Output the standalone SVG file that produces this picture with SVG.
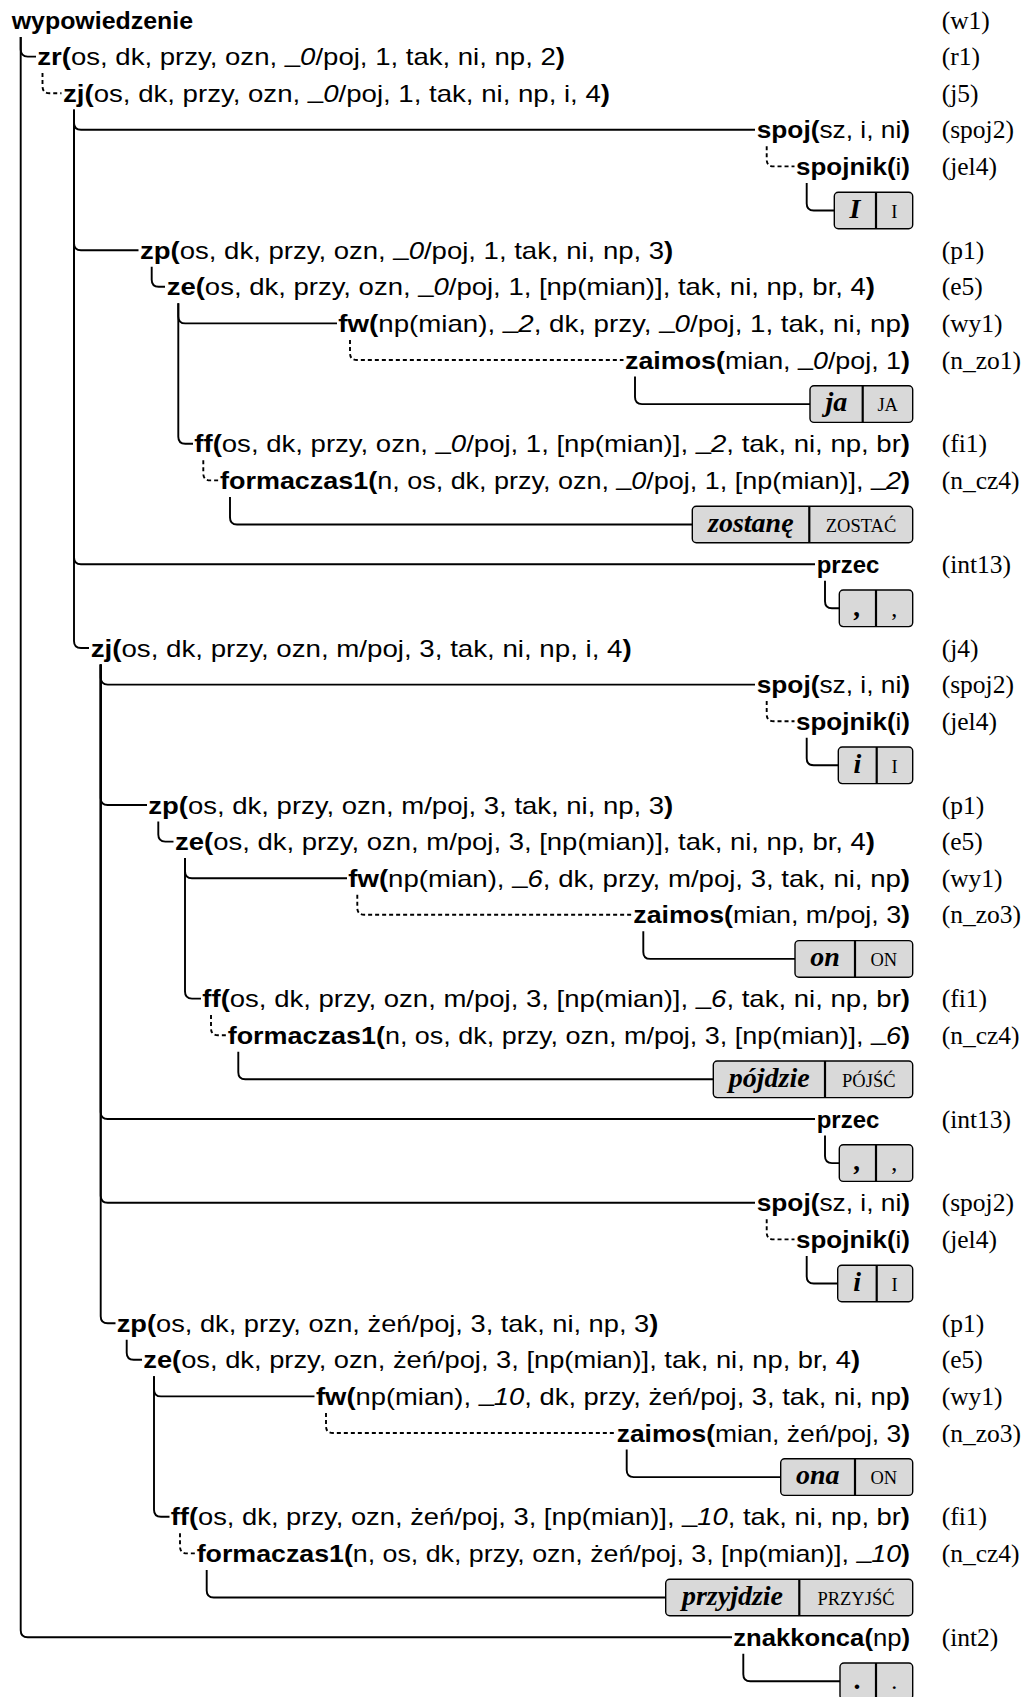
<svg xmlns="http://www.w3.org/2000/svg" width="1030" height="1697" viewBox="0 0 1030 1697">
<style>
  .t { font-family: "Liberation Sans", Arial, sans-serif; font-size: 24px; fill: #000; }
  .b { font-weight: bold; }
  .i { font-style: italic; }
  .lab { font-family: "Liberation Serif", "Times New Roman", serif; font-size: 25.5px; fill: #000; }
  .w { font-family: "Liberation Serif", "Times New Roman", serif; font-weight: bold; font-style: italic; font-size: 28px; text-anchor: middle; }
  .lm { font-family: "Liberation Serif", "Times New Roman", serif; font-size: 18.5px; text-anchor: middle; }
  .box { fill: #d9d9d9; stroke: #000; stroke-width: 1.4; }
  .sep { stroke: #000; stroke-width: 2.2; }
  .e { fill: none; stroke: #000; stroke-width: 1.9; }
  .d { stroke-dasharray: 4 3; }
</style>
<rect width="1030" height="1697" fill="#fff"/>

<!-- tree edges -->
<g id="connectors">
  <path class="e" d="M20.7 37 V49.6 Q20.7 56.6 27.7 56.6 H36"/>
  <path class="e" d="M20.7 37 V1630.2 Q20.7 1637.2 27.7 1637.2 H732"/>
  <path class="e d" d="M42.5 73 V86.2 Q42.5 93.2 49.5 93.2 H61.5"/>
  <path class="e" d="M74 109.7 V122.8 Q74 129.8 81 129.8 H755"/>
  <path class="e" d="M74 109.7 V243.2 Q74 250.2 81 250.2 H138.5"/>
  <path class="e" d="M74 109.7 V557.2 Q74 564.2 81 564.2 H815"/>
  <path class="e" d="M74 109.7 V641 Q74 648 81 648 H89"/>
  <path class="e d" d="M766.7 146.3 V159.4 Q766.7 166.4 773.7 166.4 H794.5"/>
  <path class="e" d="M806.7 182.9 V203.5 Q806.7 210.5 813.7 210.5 H834.3"/>
  <path class="e" d="M151.7 266.7 V279.8 Q151.7 286.8 158.7 286.8 H165"/>
  <path class="e" d="M178.3 303.3 V316.4 Q178.3 323.4 185.3 323.4 H337"/>
  <path class="e" d="M178.3 303.3 V436.8 Q178.3 443.8 185.3 443.8 H193"/>
  <path class="e d" d="M350 339.9 V353 Q350 360 357 360 H623.5"/>
  <path class="e" d="M635 376.5 V397.1 Q635 404.1 642 404.1 H810"/>
  <path class="e d" d="M203.3 460.3 V473.4 Q203.3 480.4 210.3 480.4 H218.5"/>
  <path class="e" d="M230 496.9 V517.5 Q230 524.5 237 524.5 H692.3"/>
  <path class="e" d="M825 580.7 V601.3 Q825 608.3 832 608.3 H839.3"/>
  <path class="e" d="M100.7 664.5 V677.6 Q100.7 684.6 107.7 684.6 H755"/>
  <path class="e" d="M100.7 664.5 V798 Q100.7 805 107.7 805 H147"/>
  <path class="e" d="M100.7 664.5 V1112 Q100.7 1119 107.7 1119 H815"/>
  <path class="e" d="M100.7 664.5 V1195.8 Q100.7 1202.8 107.7 1202.8 H755"/>
  <path class="e" d="M100.7 664.5 V1316.2 Q100.7 1323.2 107.7 1323.2 H115.5"/>
  <path class="e d" d="M766.7 701.1 V714.2 Q766.7 721.2 773.7 721.2 H794.5"/>
  <path class="e" d="M806.7 737.7 V758.3 Q806.7 765.3 813.7 765.3 H838.3"/>
  <path class="e" d="M158.3 821.5 V834.6 Q158.3 841.6 165.3 841.6 H173.5"/>
  <path class="e" d="M185 858.1 V871.2 Q185 878.2 192 878.2 H347"/>
  <path class="e" d="M185 858.1 V991.6 Q185 998.6 192 998.6 H201"/>
  <path class="e d" d="M357.3 894.7 V907.8 Q357.3 914.8 364.3 914.8 H632"/>
  <path class="e" d="M643.3 931.3 V951.9 Q643.3 958.9 650.3 958.9 H795"/>
  <path class="e d" d="M211 1015.1 V1028.2 Q211 1035.2 218 1035.2 H226"/>
  <path class="e" d="M238.3 1051.7 V1072.3 Q238.3 1079.3 245.3 1079.3 H713.3"/>
  <path class="e" d="M825 1135.5 V1156.1 Q825 1163.1 832 1163.1 H839.3"/>
  <path class="e d" d="M766.7 1219.3 V1232.4 Q766.7 1239.4 773.7 1239.4 H794.5"/>
  <path class="e" d="M806.7 1255.9 V1276.5 Q806.7 1283.5 813.7 1283.5 H837.7"/>
  <path class="e" d="M126.7 1339.7 V1352.8 Q126.7 1359.8 133.7 1359.8 H142"/>
  <path class="e" d="M154 1376.3 V1389.4 Q154 1396.4 161 1396.4 H314.5"/>
  <path class="e" d="M154 1376.3 V1509.8 Q154 1516.8 161 1516.8 H169.5"/>
  <path class="e d" d="M326 1412.9 V1426 Q326 1433 333 1433 H615"/>
  <path class="e" d="M626.7 1449.5 V1470.1 Q626.7 1477.1 633.7 1477.1 H780.7"/>
  <path class="e d" d="M180 1533.3 V1546.4 Q180 1553.4 187 1553.4 H195"/>
  <path class="e" d="M206.7 1569.9 V1590.5 Q206.7 1597.5 213.7 1597.5 H665.7"/>
  <path class="e" d="M743.3 1653.7 V1674.3 Q743.3 1681.3 750.3 1681.3 H840"/>
</g>

<!-- nodes -->
<g id="n-wypowiedzenie">
  <text class="t b" x="11.7" y="28.5" textLength="181.3" lengthAdjust="spacingAndGlyphs">wypowiedzenie</text>
  <text class="lab" x="941.7" y="28.5">(w1)</text>
</g>
<g id="n-zr">
  <text class="t" x="37.3" y="65.1" textLength="527.7" lengthAdjust="spacingAndGlyphs"><tspan class="b">zr(</tspan>os, dk, przy, ozn, <tspan dy="-3.5">_</tspan><tspan dy="3.5" class="i">0</tspan>/poj, 1, tak, ni, np, 2<tspan class="b">)</tspan></text>
  <text class="lab" x="941.7" y="65.1">(r1)</text>
</g>
<g id="n-zj5">
  <text class="t" x="63" y="101.7" textLength="547" lengthAdjust="spacingAndGlyphs"><tspan class="b">zj(</tspan>os, dk, przy, ozn, <tspan dy="-3.5">_</tspan><tspan dy="3.5" class="i">0</tspan>/poj, 1, tak, ni, np, i, 4<tspan class="b">)</tspan></text>
  <text class="lab" x="941.7" y="101.7">(j5)</text>
</g>
<g id="n-spoj1">
  <text class="t" x="756.7" y="138.3" textLength="153.3" lengthAdjust="spacingAndGlyphs"><tspan class="b">spoj(</tspan>sz, i, ni<tspan class="b">)</tspan></text>
  <text class="lab" x="941.7" y="138.3">(spoj2)</text>
</g>
<g id="n-spojnik1">
  <text class="t" x="796" y="174.9" textLength="114" lengthAdjust="spacingAndGlyphs"><tspan class="b">spojnik(</tspan>i<tspan class="b">)</tspan></text>
  <text class="lab" x="941.7" y="174.9">(jel4)</text>
</g>
<g id="tok-I">
  <rect class="box" x="834.3" y="192.2" width="78.4" height="36.6" rx="4"/>
  <line class="sep" x1="876" y1="192.2" x2="876" y2="228.8"/>
  <text class="w" x="855" y="217.7">I</text>
  <text class="lm" x="894.3" y="217.7">I</text>
</g>
<g id="n-zp1">
  <text class="t" x="140" y="258.7" textLength="533.3" lengthAdjust="spacingAndGlyphs"><tspan class="b">zp(</tspan>os, dk, przy, ozn, <tspan dy="-3.5">_</tspan><tspan dy="3.5" class="i">0</tspan>/poj, 1, tak, ni, np, 3<tspan class="b">)</tspan></text>
  <text class="lab" x="941.7" y="258.7">(p1)</text>
</g>
<g id="n-ze1">
  <text class="t" x="166.7" y="295.3" textLength="708.3" lengthAdjust="spacingAndGlyphs"><tspan class="b">ze(</tspan>os, dk, przy, ozn, <tspan dy="-3.5">_</tspan><tspan dy="3.5" class="i">0</tspan>/poj, 1, [np(mian)], tak, ni, np, br, 4<tspan class="b">)</tspan></text>
  <text class="lab" x="941.7" y="295.3">(e5)</text>
</g>
<g id="n-fw1">
  <text class="t" x="338.3" y="331.9" textLength="571.7" lengthAdjust="spacingAndGlyphs"><tspan class="b">fw(</tspan>np(mian), <tspan dy="-3.5">_</tspan><tspan dy="3.5" class="i">2</tspan>, dk, przy, <tspan dy="-3.5">_</tspan><tspan dy="3.5" class="i">0</tspan>/poj, 1, tak, ni, np<tspan class="b">)</tspan></text>
  <text class="lab" x="941.7" y="331.9">(wy1)</text>
</g>
<g id="n-zaimos1">
  <text class="t" x="625" y="368.5" textLength="285" lengthAdjust="spacingAndGlyphs"><tspan class="b">zaimos(</tspan>mian, <tspan dy="-3.5">_</tspan><tspan dy="3.5" class="i">0</tspan>/poj, 1<tspan class="b">)</tspan></text>
  <text class="lab" x="941.7" y="368.5">(n_zo1)</text>
</g>
<g id="tok-ja">
  <rect class="box" x="810" y="385.8" width="102.7" height="36.6" rx="4"/>
  <line class="sep" x1="862.7" y1="385.8" x2="862.7" y2="422.4"/>
  <text class="w" x="836.3" y="411.3">ja</text>
  <text class="lm" x="887.7" y="411.3">JA</text>
</g>
<g id="n-ff1">
  <text class="t" x="194.3" y="452.3" textLength="715.7" lengthAdjust="spacingAndGlyphs"><tspan class="b">ff(</tspan>os, dk, przy, ozn, <tspan dy="-3.5">_</tspan><tspan dy="3.5" class="i">0</tspan>/poj, 1, [np(mian)], <tspan dy="-3.5">_</tspan><tspan dy="3.5" class="i">2</tspan>, tak, ni, np, br<tspan class="b">)</tspan></text>
  <text class="lab" x="941.7" y="452.3">(fi1)</text>
</g>
<g id="n-formaczas1-1">
  <text class="t" x="220" y="488.9" textLength="690" lengthAdjust="spacingAndGlyphs"><tspan class="b">formaczas1(</tspan>n, os, dk, przy, ozn, <tspan dy="-3.5">_</tspan><tspan dy="3.5" class="i">0</tspan>/poj, 1, [np(mian)], <tspan dy="-3.5">_</tspan><tspan dy="3.5" class="i">2</tspan><tspan class="b">)</tspan></text>
  <text class="lab" x="941.7" y="488.9">(n_cz4)</text>
</g>
<g id="tok-zostane">
  <rect class="box" x="692.3" y="506.2" width="220.4" height="36.6" rx="4"/>
  <line class="sep" x1="809.3" y1="506.2" x2="809.3" y2="542.8"/>
  <text class="w" x="750.8" y="531.7">zostanę</text>
  <text class="lm" x="861" y="531.7">ZOSTAĆ</text>
</g>
<g id="n-przec1">
  <text class="t b" x="816.7" y="572.7" textLength="62.6" lengthAdjust="spacingAndGlyphs">przec</text>
  <text class="lab" x="941.7" y="572.7">(int13)</text>
</g>
<g id="tok-comma1">
  <rect class="box" x="839.3" y="590" width="73.4" height="36.6" rx="4"/>
  <line class="sep" x1="876" y1="590" x2="876" y2="626.6"/>
  <text class="w" x="857.7" y="615.5">,</text>
  <text class="lm" x="894.3" y="615.5" style="font-size:24px">,</text>
</g>
<g id="n-zj4">
  <text class="t" x="90.7" y="656.5" textLength="541" lengthAdjust="spacingAndGlyphs"><tspan class="b">zj(</tspan>os, dk, przy, ozn, m/poj, 3, tak, ni, np, i, 4<tspan class="b">)</tspan></text>
  <text class="lab" x="941.7" y="656.5">(j4)</text>
</g>
<g id="n-spoj2">
  <text class="t" x="756.7" y="693.1" textLength="153.3" lengthAdjust="spacingAndGlyphs"><tspan class="b">spoj(</tspan>sz, i, ni<tspan class="b">)</tspan></text>
  <text class="lab" x="941.7" y="693.1">(spoj2)</text>
</g>
<g id="n-spojnik2">
  <text class="t" x="796" y="729.7" textLength="114" lengthAdjust="spacingAndGlyphs"><tspan class="b">spojnik(</tspan>i<tspan class="b">)</tspan></text>
  <text class="lab" x="941.7" y="729.7">(jel4)</text>
</g>
<g id="tok-i1">
  <rect class="box" x="838.3" y="747" width="74.4" height="36.6" rx="4"/>
  <line class="sep" x1="876.7" y1="747" x2="876.7" y2="783.6"/>
  <text class="w" x="857.5" y="772.5">i</text>
  <text class="lm" x="894.7" y="772.5">I</text>
</g>
<g id="n-zp2">
  <text class="t" x="148.3" y="813.5" textLength="525" lengthAdjust="spacingAndGlyphs"><tspan class="b">zp(</tspan>os, dk, przy, ozn, m/poj, 3, tak, ni, np, 3<tspan class="b">)</tspan></text>
  <text class="lab" x="941.7" y="813.5">(p1)</text>
</g>
<g id="n-ze2">
  <text class="t" x="175" y="850.1" textLength="700" lengthAdjust="spacingAndGlyphs"><tspan class="b">ze(</tspan>os, dk, przy, ozn, m/poj, 3, [np(mian)], tak, ni, np, br, 4<tspan class="b">)</tspan></text>
  <text class="lab" x="941.7" y="850.1">(e5)</text>
</g>
<g id="n-fw2">
  <text class="t" x="348.3" y="886.7" textLength="561.7" lengthAdjust="spacingAndGlyphs"><tspan class="b">fw(</tspan>np(mian), <tspan dy="-3.5">_</tspan><tspan dy="3.5" class="i">6</tspan>, dk, przy, m/poj, 3, tak, ni, np<tspan class="b">)</tspan></text>
  <text class="lab" x="941.7" y="886.7">(wy1)</text>
</g>
<g id="n-zaimos2">
  <text class="t" x="633.3" y="923.3" textLength="276.7" lengthAdjust="spacingAndGlyphs"><tspan class="b">zaimos(</tspan>mian, m/poj, 3<tspan class="b">)</tspan></text>
  <text class="lab" x="941.7" y="923.3">(n_zo3)</text>
</g>
<g id="tok-on">
  <rect class="box" x="795" y="940.6" width="117.7" height="36.6" rx="4"/>
  <line class="sep" x1="855" y1="940.6" x2="855" y2="977.2"/>
  <text class="w" x="825" y="966.1">on</text>
  <text class="lm" x="883.8" y="966.1">ON</text>
</g>
<g id="n-ff2">
  <text class="t" x="202.3" y="1007.1" textLength="707.7" lengthAdjust="spacingAndGlyphs"><tspan class="b">ff(</tspan>os, dk, przy, ozn, m/poj, 3, [np(mian)], <tspan dy="-3.5">_</tspan><tspan dy="3.5" class="i">6</tspan>, tak, ni, np, br<tspan class="b">)</tspan></text>
  <text class="lab" x="941.7" y="1007.1">(fi1)</text>
</g>
<g id="n-formaczas1-2">
  <text class="t" x="227.7" y="1043.7" textLength="682.3" lengthAdjust="spacingAndGlyphs"><tspan class="b">formaczas1(</tspan>n, os, dk, przy, ozn, m/poj, 3, [np(mian)], <tspan dy="-3.5">_</tspan><tspan dy="3.5" class="i">6</tspan><tspan class="b">)</tspan></text>
  <text class="lab" x="941.7" y="1043.7">(n_cz4)</text>
</g>
<g id="tok-pojdzie">
  <rect class="box" x="713.3" y="1061" width="199.4" height="36.6" rx="4"/>
  <line class="sep" x1="825" y1="1061" x2="825" y2="1097.6"/>
  <text class="w" x="769.2" y="1086.5">pójdzie</text>
  <text class="lm" x="868.8" y="1086.5">PÓJŚĆ</text>
</g>
<g id="n-przec2">
  <text class="t b" x="816.7" y="1127.5" textLength="62.6" lengthAdjust="spacingAndGlyphs">przec</text>
  <text class="lab" x="941.7" y="1127.5">(int13)</text>
</g>
<g id="tok-comma2">
  <rect class="box" x="839.3" y="1144.8" width="73.4" height="36.6" rx="4"/>
  <line class="sep" x1="876" y1="1144.8" x2="876" y2="1181.4"/>
  <text class="w" x="857.7" y="1170.3">,</text>
  <text class="lm" x="894.3" y="1170.3" style="font-size:24px">,</text>
</g>
<g id="n-spoj3">
  <text class="t" x="756.7" y="1211.3" textLength="153.3" lengthAdjust="spacingAndGlyphs"><tspan class="b">spoj(</tspan>sz, i, ni<tspan class="b">)</tspan></text>
  <text class="lab" x="941.7" y="1211.3">(spoj2)</text>
</g>
<g id="n-spojnik3">
  <text class="t" x="796" y="1247.9" textLength="114" lengthAdjust="spacingAndGlyphs"><tspan class="b">spojnik(</tspan>i<tspan class="b">)</tspan></text>
  <text class="lab" x="941.7" y="1247.9">(jel4)</text>
</g>
<g id="tok-i2">
  <rect class="box" x="837.7" y="1265.2" width="75" height="36.6" rx="4"/>
  <line class="sep" x1="876.7" y1="1265.2" x2="876.7" y2="1301.8"/>
  <text class="w" x="857.2" y="1290.7">i</text>
  <text class="lm" x="894.7" y="1290.7">I</text>
</g>
<g id="n-zp3">
  <text class="t" x="116.7" y="1331.7" textLength="541.6" lengthAdjust="spacingAndGlyphs"><tspan class="b">zp(</tspan>os, dk, przy, ozn, żeń/poj, 3, tak, ni, np, 3<tspan class="b">)</tspan></text>
  <text class="lab" x="941.7" y="1331.7">(p1)</text>
</g>
<g id="n-ze3">
  <text class="t" x="143.3" y="1368.3" textLength="716.7" lengthAdjust="spacingAndGlyphs"><tspan class="b">ze(</tspan>os, dk, przy, ozn, żeń/poj, 3, [np(mian)], tak, ni, np, br, 4<tspan class="b">)</tspan></text>
  <text class="lab" x="941.7" y="1368.3">(e5)</text>
</g>
<g id="n-fw3">
  <text class="t" x="316" y="1404.9" textLength="594" lengthAdjust="spacingAndGlyphs"><tspan class="b">fw(</tspan>np(mian), <tspan dy="-3.5">_</tspan><tspan dy="3.5" class="i">10</tspan>, dk, przy, żeń/poj, 3, tak, ni, np<tspan class="b">)</tspan></text>
  <text class="lab" x="941.7" y="1404.9">(wy1)</text>
</g>
<g id="n-zaimos3">
  <text class="t" x="616.7" y="1441.5" textLength="293.3" lengthAdjust="spacingAndGlyphs"><tspan class="b">zaimos(</tspan>mian, żeń/poj, 3<tspan class="b">)</tspan></text>
  <text class="lab" x="941.7" y="1441.5">(n_zo3)</text>
</g>
<g id="tok-ona">
  <rect class="box" x="780.7" y="1458.8" width="132" height="36.6" rx="4"/>
  <line class="sep" x1="855" y1="1458.8" x2="855" y2="1495.4"/>
  <text class="w" x="817.8" y="1484.3">ona</text>
  <text class="lm" x="883.8" y="1484.3">ON</text>
</g>
<g id="n-ff3">
  <text class="t" x="170.7" y="1525.3" textLength="739.3" lengthAdjust="spacingAndGlyphs"><tspan class="b">ff(</tspan>os, dk, przy, ozn, żeń/poj, 3, [np(mian)], <tspan dy="-3.5">_</tspan><tspan dy="3.5" class="i">10</tspan>, tak, ni, np, br<tspan class="b">)</tspan></text>
  <text class="lab" x="941.7" y="1525.3">(fi1)</text>
</g>
<g id="n-formaczas1-3">
  <text class="t" x="196.7" y="1561.9" textLength="713.3" lengthAdjust="spacingAndGlyphs"><tspan class="b">formaczas1(</tspan>n, os, dk, przy, ozn, żeń/poj, 3, [np(mian)], <tspan dy="-3.5">_</tspan><tspan dy="3.5" class="i">10</tspan><tspan class="b">)</tspan></text>
  <text class="lab" x="941.7" y="1561.9">(n_cz4)</text>
</g>
<g id="tok-przyjdzie">
  <rect class="box" x="665.7" y="1579.2" width="247" height="36.6" rx="4"/>
  <line class="sep" x1="799.3" y1="1579.2" x2="799.3" y2="1615.8"/>
  <text class="w" x="732.5" y="1604.7">przyjdzie</text>
  <text class="lm" x="856" y="1604.7">PRZYJŚĆ</text>
</g>
<g id="n-znakkonca">
  <text class="t" x="733.3" y="1645.7" textLength="176.7" lengthAdjust="spacingAndGlyphs"><tspan class="b">znakkonca(</tspan>np<tspan class="b">)</tspan></text>
  <text class="lab" x="941.7" y="1645.7">(int2)</text>
</g>
<g id="tok-dot">
  <rect class="box" x="840" y="1663" width="72.7" height="36.6" rx="4"/>
  <line class="sep" x1="876" y1="1663" x2="876" y2="1699.6"/>
  <text class="w" x="858" y="1688.5">.</text>
  <text class="lm" x="894.3" y="1688.5" style="font-size:24px">.</text>
</g>
</svg>
